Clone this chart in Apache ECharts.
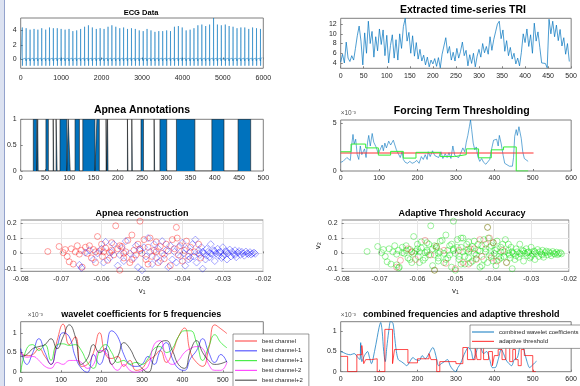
<!DOCTYPE html>
<html lang="en">
<head>
<meta charset="UTF-8">
<title>Apnea detection figure</title>
<script src="https://cdn.jsdelivr.net/npm/echarts@6/dist/echarts.min.js"></script>
<style>
  html, body { margin: 0; padding: 0; background: #fff; }
  #chart { width: 580px; height: 386px; }
</style>
</head>
<body>
<div id="chart"></div>
<script>
// ---------- data ----------

// ECG: R-peak positions and heights, plus one beat shape (offset, value)
var ecgBeatX = [40,135,232,330,425,520,618,712,808,905,1000,1098,1195,1290,1385,1482,1580,1675,1772,1870,
  1965,2062,2160,2255,2352,2450,2545,2642,2740,2835,2932,3030,3125,3222,3320,3415,3512,3610,3705,3802,
  3900,3995,4092,4190,4285,4382,4480,4575,4672,4770,4865,4962,5060,5155,5252,5350,5445,5542,5640,5735,5832,5930];
var ecgBeatPeak = [4.4,4.3,4.1,4.2,4.1,4.3,4.1,4.4,4.3,4.3,4.2,4.1,4.2,3.9,4.0,4.2,4.5,4.7,4.4,4.2,
  4.3,4.2,4.5,4.7,4.5,4.3,4.4,4.2,4.3,4.2,4.0,3.9,4.2,4.0,3.8,3.9,3.9,4.0,3.9,4.5,
  4.6,4.4,4.0,4.1,4.3,4.7,4.8,4.6,4.8,5.7,4.8,4.7,4.8,4.6,4.5,4.3,4.4,4.4,4.2,4.4,4.3,4.2];
var beatDx = [-40, -22, -8, -3, 0, 3, 7, 20, 38, 50];
var beatY  = [0.0, 0.2, 0.0, -0.2, null, -0.85, 0.05, 0.1, 0.3, -0.05];

// extracted TRI, one value every 4 samples
var triVals = [4.2,5.8,4.0,8.3,5.0,4.3,5.5,4.6,7.0,9.6,11.6,8.5,3.6,10.2,6.0,12.6,8.0,10.5,5.2,9.4,
  6.5,11.0,7.8,10.8,5.5,9.7,4.0,7.6,9.8,5.0,8.8,4.6,10.0,7.0,11.5,13.2,8.5,10.3,6.0,9.6,
  5.4,8.2,4.8,6.8,4.4,5.6,3.6,5.2,3.2,4.6,3.8,4.9,3.3,5.1,3.0,5.8,7.5,9.2,6.0,7.4,
  4.6,6.2,4.4,7.0,5.0,6.4,8.3,5.5,6.6,3.4,5.7,3.9,6.0,3.2,5.4,6.8,5.2,8.0,6.1,7.4,
  5.8,9.4,6.6,8.8,10.4,12.0,12.6,9.0,10.8,6.4,8.6,5.5,7.2,4.8,6.0,3.8,5.0,3.4,6.2,10.0,
  8.2,11.0,7.4,9.8,6.0,12.2,8.5,10.4,7.2,4.0,3.6,3.9,3.0,13.0,10.0,12.6,9.4,11.8,8.6,10.9,
  7.5,9.2,5.8,8.0,4.3];

// apnea annotation intervals (sample index)
var apneaStart = [26,35,52,67,73,81,98,112,128,157,176,179,220,229,248,275,287,321,394,448];
var apneaEnd   = [33,36,57,68,75,95,102,121,153,162,177,180,221,230,253,276,301,359,419,474];

// forcing term (x1e-3) and thresholds
var forcing = [[0,0.9],[6,1.0],[11,0.8],[16,1.4],[21,1.6],[25,1.1],[28,2.5],[32,3.8],[35,2.8],[39,3.3],
  [43,1.7],[47,1.2],[51,2.6],[55,1.7],[62,2.3],[66,1.4],[70,3.0],[73,3.7],[77,2.6],[82,3.9],
  [86,3.0],[92,2.5],[98,1.8],[103,1.6],[108,2.7],[111,2.1],[115,2.9],[119,2.4],[125,3.1],[130,2.7],
  [137,3.2],[142,3.4],[145,2.2],[150,1.8],[155,1.4],[160,2.0],[163,1.2],[168,0.9],[174,0.8],[180,1.0],
  [186,0.8],[192,0.9],[198,1.1],[204,0.8],[210,1.5],[215,1.2],[220,1.7],[225,1.2],[228,2.0],[233,1.5],
  [239,2.1],[245,1.6],[250,1.8],[255,1.4],[261,2.0],[266,1.3],[272,1.8],[277,1.4],[282,1.9],[287,1.3],
  [292,2.6],[297,1.6],[302,1.8],[307,1.4],[312,1.8],[318,2.4],[323,2.0],[327,3.0],[331,3.7],[335,4.6],
  [338,5.3],[341,4.3],[345,2.9],[349,2.2],[353,2.5],[357,1.5],[362,1.0],[367,1.3],[372,0.9],[378,0.7],
  [383,0.6],[388,1.2],[393,2.3],[398,3.2],[402,3.0],[406,3.3],[410,2.6],[413,3.7],[418,2.8],[423,1.6],
  [427,0.8],[431,0.6],[439,0.5],[447,0.5],[450,1.4],[453,3.6],[457,4.3],[460,3.7],[464,4.6],[466,4.7],
  [470,3.4],[474,2.0],[478,1.3],[483,1.1],[488,1.0]];
var fixedThreshold = [[0,1.87],[502,1.87]];
var stepThreshold = [[0,2.0],[27,2.8],[65,2.4],[98,1.65],[130,2.04],[163,1.34],[196,1.94],[259,1.5],
  [296,1.7],[327,2.3],[359,1.37],[392,2.2],[424,2.5],[457,0],[488,0]];

// scatter points (v1, v2)
var apneaPts = [[-0.0733,0.012],[-0.0705,0.045],[-0.0695,0.005],[-0.069,0.025],[-0.0685,-0.02],[-0.068,-0.055],
  [-0.0675,0.03],[-0.067,-0.07],[-0.0665,0.01],[-0.066,0.05],[-0.0655,-0.005],[-0.065,0.02],[-0.0648,-0.09],
  [-0.064,0.04],[-0.0635,0],[-0.063,0.05],[-0.0625,-0.03],[-0.062,0.025],[-0.0615,-0.06],[-0.061,0.11],
  [-0.0605,0.015],[-0.06,0.06],[-0.0598,-0.02],[-0.059,0.035],[-0.0585,-0.045],[-0.058,0.005],[-0.0575,0.07],
  [-0.057,-0.01],[-0.0565,0.18],[-0.056,0.03],[-0.0555,-0.11],[-0.055,0.045],[-0.0545,-0.03],[-0.054,0.01],
  [-0.0535,0.085],[-0.053,-0.06],[-0.0525,0.12],[-0.052,0.02],[-0.0515,-0.01],[-0.051,0.06],[-0.0505,0.21],
  [-0.05,0],[-0.0495,0.09],[-0.049,-0.04],[-0.0485,0.04],[-0.048,0.1],[-0.0475,-0.02],[-0.047,0.02],
  [-0.0465,0.075],[-0.046,-0.06],[-0.0455,0.045],[-0.045,0],[-0.0445,-0.035],[-0.044,0.06],[-0.0435,0.015],
  [-0.043,-0.08],[-0.0425,0.09],[-0.042,0.03],[-0.0415,0.17],[-0.0413,0.1],[-0.041,-0.01],[-0.0405,0.05],
  [-0.04,-0.05],[-0.0395,0.02],[-0.039,0.08],[-0.0385,-0.02],[-0.038,0.04],[-0.037,0.01],[-0.036,0.06],
  [-0.0355,-0.03],[-0.0545,0],[-0.0575,0.02],[-0.0595,0.01],[-0.0505,0.03],[-0.0465,0.01],[-0.0525,-0.04],
  [-0.0615,0.01],[-0.0485,-0.07],[-0.0555,0.05]];
var normalPts = [[-0.0655,-0.075],[-0.065,-0.095],[-0.064,0.005],[-0.063,0.02],[-0.062,-0.04],[-0.061,0],
  [-0.06,0.03],[-0.0595,-0.06],[-0.059,0.075],[-0.058,-0.03],[-0.0575,0.01],[-0.057,0.06],[-0.056,-0.08],
  [-0.0555,-0.01],[-0.055,0.035],[-0.0545,-0.05],[-0.054,0.08],[-0.053,0],[-0.052,-0.03],[-0.0515,0.05],
  [-0.051,-0.09],[-0.0505,0.02],[-0.05,-0.11],[-0.0495,0.04],[-0.049,-0.02],[-0.0485,0.1],[-0.048,0.01],
  [-0.0475,-0.07],[-0.047,0.06],[-0.0465,-0.03],[-0.046,0.03],[-0.0455,-0.05],[-0.045,0.08],[-0.0445,-0.01],
  [-0.044,0.02],[-0.0435,-0.09],[-0.043,0.05],[-0.0425,-0.04],[-0.042,0.01],[-0.0415,-0.06],[-0.041,0.04],
  [-0.0405,-0.02],[-0.04,0.07],[-0.0397,0],[-0.0393,-0.08],[-0.039,0.03],[-0.0385,-0.04],[-0.038,0.01],
  [-0.0375,0.06],[-0.0372,-0.02],[-0.0368,0.09],[-0.0365,-0.06],[-0.036,0.02],[-0.0357,-0.01],[-0.0353,0.04],
  [-0.035,-0.1],[-0.0347,0],[-0.0343,-0.04],[-0.034,0.03],[-0.0337,0.01],[-0.0333,-0.025],[-0.033,0.06],
  [-0.0327,-0.005],[-0.0323,0.02],[-0.032,-0.05],[-0.0317,0],[-0.0313,0.03],[-0.031,-0.015],[-0.0307,0.01],
  [-0.0303,-0.03],[-0.03,0.04],[-0.0297,-0.005],[-0.0293,0.015],[-0.029,-0.04],[-0.0287,0],[-0.0283,0.025],
  [-0.028,-0.02],[-0.0277,0.01],[-0.0273,-0.005],[-0.027,0.02],[-0.0267,-0.025],[-0.0263,0.005],[-0.026,0.015],
  [-0.0257,-0.01],[-0.0253,0.01],[-0.025,0],[-0.0247,-0.015],[-0.0243,0.012],[-0.024,0],[-0.0237,-0.005],
  [-0.0233,0.008],[-0.023,-0.008],[-0.0227,0],[-0.0223,0.005],[-0.022,-0.003],[-0.031,0.005],[-0.032,0.015],
  [-0.034,-0.015],[-0.036,0],[-0.038,-0.03],[-0.029,0.01],[-0.03,-0.02],[-0.033,0],[-0.035,0.01],[-0.027,-0.01]];
var missedPts = [[-0.0655,-0.09],[-0.0645,-0.045],[-0.0625,0.03],[-0.0615,0.01],[-0.0605,-0.04],[-0.058,0.085],
  [-0.0565,-0.01],[-0.0555,-0.11],[-0.055,0.045],[-0.053,0.02],[-0.0525,-0.065],[-0.05,-0.1],[-0.049,0.02],
  [-0.048,-0.06],[-0.0465,0.03],[-0.0465,-0.07],[-0.045,0.03],[-0.0445,-0.04],[-0.0435,0.09],[-0.043,-0.02],
  [-0.042,0.06],[-0.0415,0.17],[-0.041,0.1],[-0.0405,-0.03],[-0.04,0.07],[-0.039,-0.05],[-0.0375,0.02],[-0.0365,-0.06]];

// wavelet coefficients (x1e-3)
var waveX = [0,15,30,45,60,75,90,105,120,135,150,165,180,195,210,225,240,255,270,285,300,315,330,345,360,375,390,405,420,435,450,465,480,495,510];
var waveBest   = [0.5,0.42,0.45,0.6,0.4,0.2,0.8,1.22,0.7,0.9,0.15,0.2,0.5,1.0,0.45,0.35,0.4,0.15,0.3,0.05,0.1,0.3,0.4,0.55,0.25,0.5,0.9,1.12,0.5,0.25,0.15,0.6,1.2,1.1,0.98];
var waveMinus1 = [0.6,0.2,0.5,0.85,0.5,0.2,0.65,1.0,0.9,0.4,0.1,0.0,0.45,0.2,0.55,1.05,0.9,0.45,0.2,0.15,0.2,0.4,0.2,0.55,0.75,0.35,0.1,0.05,0.35,0.55,0.85,0.5,0.25,0.45,0.25];
var wavePlus1  = [0.0,0.6,0.7,0.55,0.7,0.3,0.7,0.72,0.68,0.7,0.55,0.25,0.1,0.55,0.7,0.5,0.25,0.3,0.2,0.25,0.2,0.35,0.6,0.65,0.5,0.6,0.9,1.05,1.05,0.75,0.3,0.65,0.95,0.75,0.62];
var waveMinus2 = [0.48,0.38,0.4,0.3,0.15,0.1,0.25,0.2,0.3,0.3,0.25,0.1,0.2,0.55,0.5,0.2,0.05,0.2,0.05,0.0,0.05,0.15,0.7,0.8,0.35,0.2,0.3,0.5,0.6,0.65,0.6,0.2,0.05,0.05,0.25];
var wavePlus2  = [0.4,0.45,0.6,0.65,0.7,0.85,0.6,0.9,1.2,0.9,0.2,0.35,0.7,0.5,0.6,0.2,0.4,0.75,0.6,0.3,0.1,0.0,0.4,0.75,0.8,0.55,0.2,0.1,0.55,0.8,0.5,0.3,0.2,0.22,0.28];

// combined coefficients and adaptive threshold (x1e-3)
var combined = [[0,0.5],[8,0.47],[15,0.44],[25,0.42],[35,0.45],[45,0.35],[50,0.3],[52,0.72],[55,0.25],[62,0.4],
  [70,0.5],[75,0.35],[80,0.2],[88,0.5],[95,0.85],[100,1.1],[104,1.22],[108,1.0],[112,0.5],[116,0.25],
  [120,0.6],[125,1.0],[130,1.25],[136,1.2],[140,0.9],[145,0.5],[150,0.3],[158,0.25],[165,0.2],[172,0.15],
  [180,0.25],[188,0.35],[195,0.3],[205,0.28],[212,0.4],[220,0.32],[230,0.45],[240,0.6],[245,0.5],[250,0.3],
  [255,0.15],[262,0.2],[270,0.25],[278,0.3],[285,0.15],[292,0.05],[300,0.0],[305,0.1],[312,0.2],[318,0.35],
  [325,0.5],[332,0.6],[340,0.5],[345,0.3],[352,0.45],[360,0.7],[365,0.6],[372,0.45],[380,0.5],[388,0.3],
  [395,0.1],[402,0.1],[410,0.3],[418,0.55],[424,0.45],[430,0.3],[438,0.2],[445,0.15],[452,0.3],[460,0.35],
  [466,0.6],[472,0.7],[478,0.5],[485,0.25],[492,0.1],[498,0.15],[505,0.22],[510,0.26]];
var adaptive = [[0,0.38],[18,0],[42,0.42],[55,0.65],[60,0.2],[65,0.3],[80,0.32],[95,0],[115,1.05],[135,0.2],
  [140,0.55],[175,0.22],[200,0.32],[230,0.45],[235,0.3],[250,0],[258,0.25],[300,0.2],[318,0.6],[330,0.3],
  [350,0.6],[355,0.3],[365,0.62],[372,0.3],[385,0.5],[395,0.15],[400,0.4],[410,0.55],[420,0.3],[430,0.6],
  [440,0.25],[448,0.55],[455,0.3],[462,0.15],[470,0.55],[478,0.4],[500,0],[508,0]];

// tick labels
var ecgTicksX = [0,1000,2000,3000,4000,5000,6000];
var ecgTicksY = [0,2,4];
var triTicksX = [0,50,100,150,200,250,300,350,400,450,500];
var triTicksY = [4,6,8,10,12];
var annTicksY = [0,0.5,1];
var hundredTicks = [0,100,200,300,400,500,600];
var forceTicksY = [0,5];
var vTicksX = [-0.08,-0.07,-0.06,-0.05,-0.04,-0.03,-0.02];
var vTicksY = [-0.1,0,0.1,0.2];
var coefTicksY = [0,0.5,1];

// ---------- chart ----------
var FONT = '"Liberation Sans", Arial, Helvetica, sans-serif';
var INK = '#262626';

var ecgPoints = [];
ecgBeatX.forEach(function (bx, i) {
    beatDx.forEach(function (dx, k) {
        ecgPoints.push([bx + dx, beatY[k] === null ? ecgBeatPeak[i] : beatY[k]]);
    });
});
var triPoints = triVals.map(function (v, i) { return [i * 4, v]; });
var apneaPoints = [];
apneaStart.forEach(function (s, i) {
    apneaPoints.push([s, 0], [s, 1], [apneaEnd[i], 1], [apneaEnd[i], 0]);
});
function pairs(xs, ys) { return xs.map(function (x, i) { return [x, ys[i]]; }); }

var grids = [
    {left: 20.7, top: 18, width: 242.6, height: 50.3},
    {left: 340.7, top: 18.3, width: 243, height: 50},
    {left: 20.7, top: 119.3, width: 242.6, height: 51.7},
    {left: 340.7, top: 120, width: 243, height: 51},
    {left: 20.7, top: 220, width: 242.6, height: 51.3},
    {left: 341.7, top: 220, width: 240.6, height: 51.3},
    {left: 20.7, top: 321.7, width: 242.6, height: 50.6},
    {left: 340.7, top: 321.7, width: 243, height: 50}
].map(function (g) {
    return Object.assign({show: true, borderColor: '#7f7f7f', borderWidth: 1, containLabel: false}, g);
});

function axis(i, min, max, ticks, grid, extra) {
    return Object.assign({
        type: 'value', gridIndex: i, min: min, max: max,
        axisLine: {show: false},
        axisTick: {show: true, inside: true, length: 2, customValues: ticks, lineStyle: {color: '#7f7f7f'}},
        axisLabel: {customValues: ticks, fontSize: 7, color: INK, fontFamily: FONT, margin: 4,
            formatter: function (v) { return String(v); }},
        splitLine: {show: !!grid, lineStyle: {color: '#e6e6e6', width: 1}}
    }, extra || {});
}

var expName = {
    name: '×10⁻³', nameLocation: 'end', nameGap: 3,
    nameTextStyle: {fontSize: 6.5, color: '#555', fontFamily: FONT, align: 'left'}
};
var v1Name = {name: 'v₁', nameLocation: 'middle', nameGap: 15,
    nameTextStyle: {fontSize: 8, color: INK, fontFamily: FONT}};

var xAxes = [
    axis(0, 0, 6000, ecgTicksX, false, {axisLabel: {customValues: ecgTicksX, fontSize: 7, color: INK, fontFamily: FONT, margin: 6, formatter: String}}),
    axis(1, 0, 500, triTicksX),
    axis(2, 0, 500, triTicksX),
    axis(3, 0, 600, hundredTicks),
    axis(4, -0.08, -0.02, vTicksX, true, v1Name),
    axis(5, -0.08, -0.02, vTicksX, true, v1Name),
    axis(6, 0, 600, hundredTicks),
    axis(7, 0, 600, hundredTicks)
];
var yAxes = [
    axis(0, -1.2, 5.7, ecgTicksY),
    axis(1, 2.9, 13.2, triTicksY),
    axis(2, 0, 1, annTicksY),
    axis(3, 0, 5.3, forceTicksY, false, expName),
    axis(4, -0.117, 0.218, vTicksY, true),
    axis(5, -0.117, 0.218, vTicksY, true, {name: 'v₂', nameLocation: 'middle', nameGap: 17, nameRotate: 90,
        nameTextStyle: {fontSize: 8, color: INK, fontFamily: FONT}}),
    axis(6, 0, 1.28, coefTicksY, false, Object.assign({}, expName, {nameTextStyle: Object.assign({}, expName.nameTextStyle, {padding: [0, 0, 0, 7]})})),
    axis(7, 0, 1.24, coefTicksY, false, expName)
];

function line(i, name, data, color, width, extra) {
    return Object.assign({
        type: 'line', name: name, xAxisIndex: i, yAxisIndex: i, data: data,
        symbol: 'none', silent: true, sampling: null,
        lineStyle: {color: color, width: width}, itemStyle: {color: color}
    }, extra || {});
}
function scatter(i, data, symbol, size, color) {
    return {
        type: 'scatter', xAxisIndex: i, yAxisIndex: i, data: data, symbol: symbol, symbolSize: size,
        silent: true, itemStyle: {color: 'rgba(0,0,0,0)', borderColor: color, borderWidth: 0.8}
    };
}

var series = [
    line(0, 'ecg', ecgPoints, '#0072BD', 0.5),
    line(1, 'tri', triPoints, '#0072BD', 0.7),
    line(2, 'apnea', apneaPoints, '#1a1a1a', 0.6, {areaStyle: {color: '#0072BD', opacity: 1}}),
    line(3, 'forcing', forcing, 'rgba(0,114,189,0.75)', 0.8),
    line(3, 'fixed', fixedThreshold, '#ff3030', 1),
    line(3, 'step', stepThreshold, '#33ee33', 1, {step: 'end'}),
    scatter(4, apneaPts, 'circle', 6, 'rgba(255,0,0,0.6)'),
    scatter(4, normalPts, 'diamond', 7, 'rgba(0,0,255,0.55)'),
    scatter(5, apneaPts.concat(normalPts), 'circle', 6, 'rgba(0,220,0,0.6)'),
    scatter(5, missedPts, 'circle', 6, 'rgba(230,0,0,0.45)'),
    line(6, 'best channel', pairs(waveX, waveBest), 'rgba(255,0,0,0.65)', 0.9, {smooth: 0.5}),
    line(6, 'best channel-1', pairs(waveX, waveMinus1), 'rgba(0,0,255,0.65)', 0.9, {smooth: 0.5}),
    line(6, 'best channel+1', pairs(waveX, wavePlus1), 'rgba(0,230,0,0.7)', 0.9, {smooth: 0.5}),
    line(6, 'best channel-2', pairs(waveX, waveMinus2), 'rgba(255,0,255,0.7)', 0.9, {smooth: 0.5}),
    line(6, 'best channel+2', pairs(waveX, wavePlus2), 'rgba(0,0,0,0.65)', 0.9, {smooth: 0.5}),
    line(7, 'combined wavelet coefficients', combined, 'rgba(0,114,189,0.8)', 0.9, {smooth: 0.3}),
    line(7, 'adaptive threshold', adaptive, 'rgba(255,0,0,0.7)', 1, {step: 'end'})
];

var legendBase = {
    orient: 'vertical', icon: 'rect', itemWidth: 22, itemHeight: 1.2, selectedMode: false,
    backgroundColor: '#fff', borderColor: '#555', borderWidth: 0.6, borderRadius: 0, height: 80,
    textStyle: {fontSize: 6, color: INK, fontFamily: FONT, lineHeight: 8}
};

var titles = [
    ['ECG Data', 141, 13.3, 7.5],
    ['Extracted time-series TRI', 463, 10, 10.5],
    ['Apnea Annotations', 142, 110.3, 10.5],
    ['Forcing Term Thresholding', 461.7, 111, 10.5],
    ['Apnea reconstruction', 142, 213.3, 9],
    ['Adaptive Threshold Accuracy', 462, 214, 9],
    ['wavelet coefficients for 5 frequencies', 141.3, 314.3, 9],
    ['combined frequencies and adaptive threshold', 461.3, 314.3, 9]
];
var graphics = titles.map(function (t) {
    return {type: 'text', x: t[1], y: t[2], silent: true, style: {
        text: t[0], align: 'center', verticalAlign: 'middle', fill: '#000',
        fontSize: t[3], fontWeight: 'bold', fontFamily: FONT}};
});
// window border on the left edge
graphics.push({type: 'rect', shape: {x: 0, y: 0, width: 4, height: 386}, style: {fill: '#dce2f1'}, silent: true});
graphics.push({type: 'line', shape: {x1: 4.5, y1: 0, x2: 4.5, y2: 386}, style: {stroke: '#93a2cc', lineWidth: 1}, silent: true});

var chart = echarts.init(document.getElementById('chart'), null, {renderer: 'canvas'});
chart.setOption({
    animation: false,
    backgroundColor: '#fff',
    grid: grids,
    xAxis: xAxes,
    yAxis: yAxes,
    legend: [
        Object.assign({}, legendBase, {left: 233, top: 334, itemGap: 1.8, padding: [3, 6, 3, 2],
            data: ['best channel', 'best channel-1', 'best channel+1', 'best channel-2', 'best channel+2']}),
        Object.assign({}, legendBase, {left: 470, top: 325, itemGap: 1.4, padding: [3, 6, 3, 2],
            data: ['combined wavelet coefficients', 'adaptive threshold']})
    ],
    series: series,
    graphic: graphics
});
</script>
</body>
</html>
